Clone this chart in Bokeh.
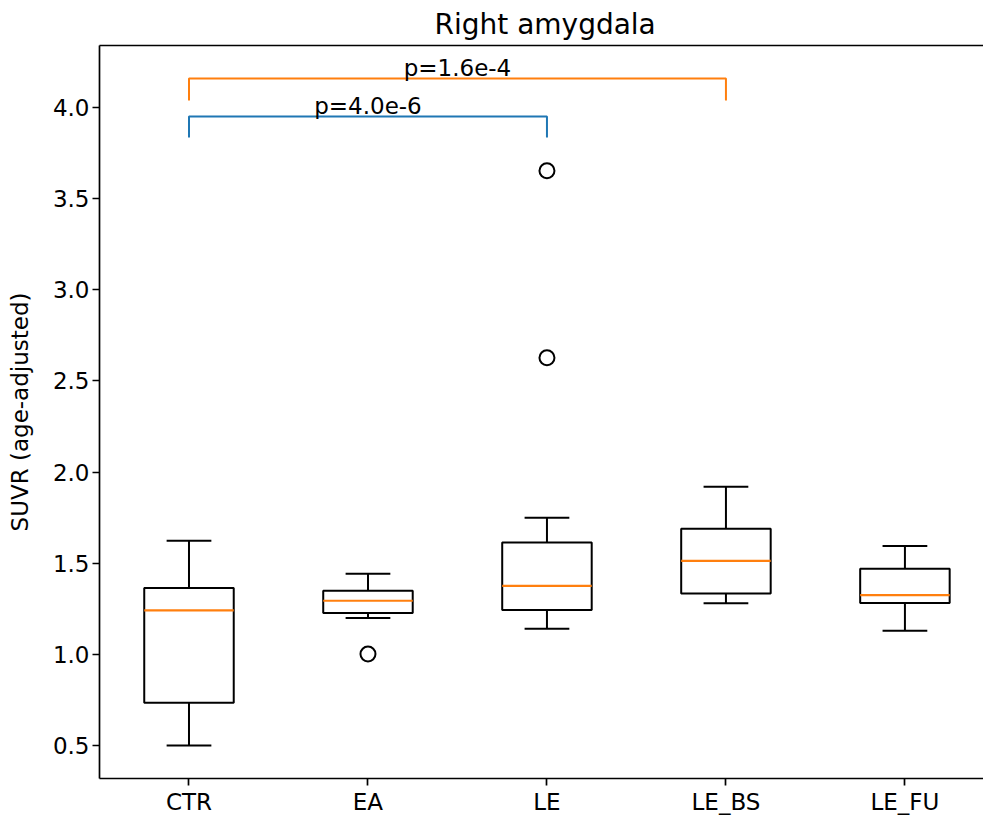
from bokeh.plotting import figure
from bokeh.models import FixedTicker, Range1d, LinearAxis, PrintfTickFormatter
from bokeh.embed import file_html
from bokeh.resources import INLINE
from bokeh.core.properties import value

# ---- data ----
groups = ["CTR", "EA", "LE", "LE_BS", "LE_FU"]
whisker_low = [0.50, 1.20, 1.14, 1.28, 1.13]
q1 = [0.735, 1.227, 1.243, 1.334, 1.282]
median = [1.241, 1.294, 1.376, 1.513, 1.325]
q3 = [1.364, 1.349, 1.614, 1.689, 1.469]
whisker_high = [1.623, 1.442, 1.749, 1.920, 1.594]

outlier_group = ["EA", "LE", "LE"]
outlier_value = [1.002, 2.627, 3.653]

bracket_from = ["CTR", "CTR"]
bracket_to = ["LE", "LE_BS"]
bracket_base = [3.836, 4.038]
bracket_top = [3.951, 4.159]
bracket_labels = ["p=4.0e-6", "p=1.6e-4"]
bracket_colors = ["#1f77b4", "#ff7f0e"]

y_ticks = [0.5, 1.0, 1.5, 2.0, 2.5, 3.0, 3.5, 4.0]

# ---- figure ----
FONT = "DejaVu Sans"
BASE = "23px"
pos = {g: i + 1 for i, g in enumerate(groups)}
xs = [pos[g] for g in groups]

p = figure(width=983, height=817, output_backend="svg", toolbar_location=None,
           x_range=Range1d(0.5, 5.439), y_range=Range1d(0.319, 4.34),
           min_border_left=99, min_border_right=0, min_border_top=44, min_border_bottom=39)
p.outline_line_color = None
p.xgrid.visible = False
p.ygrid.visible = False
p.background_fill_color = "white"
p.border_fill_color = "white"

p.title.text = "Right amygdala"
p.title.text_font = FONT
p.title.text_font_size = "28px"
p.title.text_font_style = "normal"
p.title.text_color = "black"
p.title.align = "left"
p.title.offset = 335
p.title.standoff = 10

for ax in (p.xaxis[0], p.yaxis[0]):
    ax.axis_line_color = "black"
    ax.axis_line_width = 1.7
    ax.major_tick_line_color = "black"
    ax.major_tick_line_width = 1.7
    ax.major_tick_out = 7
    ax.major_tick_in = 0
    ax.minor_tick_line_color = None
    ax.major_label_text_font = FONT
    ax.major_label_text_font_size = BASE
    ax.major_label_text_color = "black"
    ax.major_label_standoff = 3

p.xaxis.ticker = FixedTicker(ticks=xs)
p.xaxis.major_label_overrides = {pos[g]: g for g in groups}
p.yaxis.ticker = FixedTicker(ticks=y_ticks)
p.yaxis.formatter = PrintfTickFormatter(format="%.1f")
p.yaxis.axis_label = "SUVR (age-adjusted)"
p.yaxis.axis_label_text_font = FONT
p.yaxis.axis_label_text_font_size = BASE
p.yaxis.axis_label_text_font_style = "normal"
p.yaxis.axis_label_text_color = "black"
p.yaxis.axis_label_standoff = 17

top_axis = LinearAxis(ticker=FixedTicker(ticks=[]), axis_line_color="black",
                      axis_line_width=1.7, major_tick_line_color=None,
                      minor_tick_line_color=None)
p.add_layout(top_axis, "above")

# ---- boxes ----
box_w = 0.5
cap_w = 0.25
p.segment(x0=xs, y0=q3, x1=xs, y1=whisker_high, line_color="black", line_width=2)
p.segment(x0=xs, y0=whisker_low, x1=xs, y1=q1, line_color="black", line_width=2)
p.segment(x0=[x - cap_w / 2 for x in xs], y0=whisker_high,
          x1=[x + cap_w / 2 for x in xs], y1=whisker_high, line_color="black", line_width=2)
p.segment(x0=[x - cap_w / 2 for x in xs], y0=whisker_low,
          x1=[x + cap_w / 2 for x in xs], y1=whisker_low, line_color="black", line_width=2)
p.quad(left=[x - box_w / 2 for x in xs], right=[x + box_w / 2 for x in xs],
       bottom=q1, top=q3, fill_color=None, line_color="black", line_width=2)
p.segment(x0=[x - box_w / 2 for x in xs], y0=median,
          x1=[x + box_w / 2 for x in xs], y1=median, line_color="#ff7f0e", line_width=2.2)

p.scatter(x=[pos[g] for g in outlier_group], y=outlier_value, marker="circle", size=15,
          fill_color=None, line_color="black", line_width=2)

# ---- significance brackets ----
for a, b, y0, y1, lab, col in zip(bracket_from, bracket_to, bracket_base, bracket_top,
                                  bracket_labels, bracket_colors):
    xa, xb = pos[a], pos[b]
    p.line(x=[xa, xa, xb, xb], y=[y0, y1, y1, y0], line_color=col, line_width=2)
    p.text(x=[(xa + xb) / 2], y=[y1], text=[lab], text_align="center",
           text_baseline="middle", y_offset=-10, text_font=value(FONT),
           text_font_size=BASE, text_color="black")

open("out.html", "w").write(file_html(p, INLINE))
